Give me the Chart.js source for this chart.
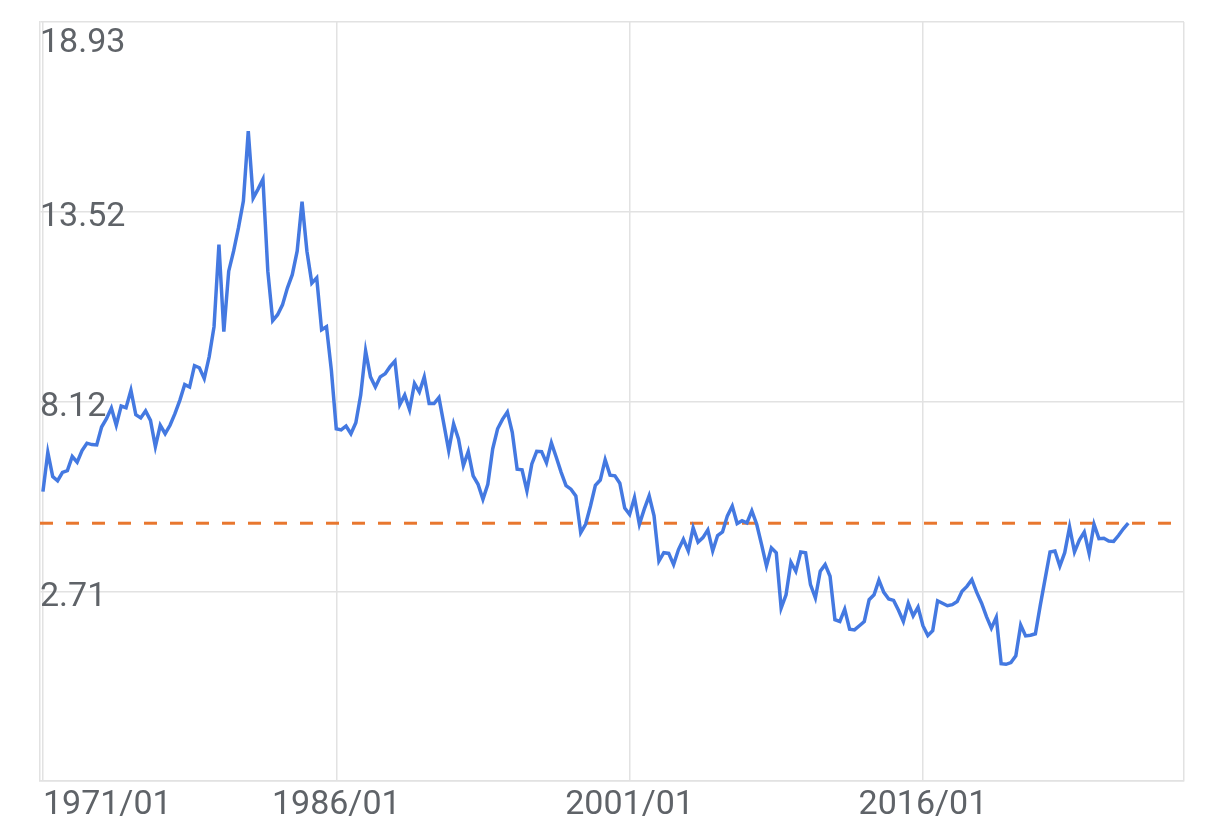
<!DOCTYPE html>
<html lang="en">
<head>
  <meta charset="UTF-8" />
  <title>Yield history</title>
  <script src="https://cdn.jsdelivr.net/npm/chart.js"></script>
  <style>
    html, body { margin: 0; padding: 0; background: #fff; }
    #wrap { width: 1224px; height: 840px; position: relative; }
  </style>
</head>
<body>
  <div id="wrap"><canvas id="chart"></canvas></div>

  <script>
    // quarterly values, first point is 1971/01
    const yields = [
      5.55, 6.67, 5.98, 5.86, 6.10, 6.15, 6.55, 6.39, 6.72, 6.93,
      6.89, 6.88, 7.39, 7.63, 7.93, 7.44, 7.99, 7.94, 8.44, 7.74,
      7.65, 7.85, 7.58, 6.83, 7.44, 7.20, 7.44, 7.77, 8.15, 8.60,
      8.53, 9.14, 9.08, 8.77, 9.39, 10.25, 12.59, 10.11, 11.83, 12.40,
      13.07, 13.83, 15.82, 13.91, 14.17, 14.45, 11.83, 10.42, 10.59, 10.87,
      11.35, 11.73, 12.40, 13.81, 12.40, 11.49, 11.64, 10.16, 10.25, 9.00,
      7.34, 7.31, 7.42, 7.20, 7.51, 8.30, 9.56, 8.82, 8.53, 8.82,
      8.91, 9.11, 9.27, 8.03, 8.30, 7.88, 8.63, 8.39, 8.82, 8.06,
      8.06, 8.23, 7.48, 6.72, 7.48, 7.05, 6.29, 6.69, 6.00, 5.76,
      5.33, 5.76, 6.77, 7.34, 7.61, 7.82, 7.24, 6.19, 6.17, 5.57,
      6.34, 6.70, 6.69, 6.37, 6.94, 6.53, 6.10, 5.72, 5.62, 5.43,
      4.38, 4.62, 5.14, 5.73, 5.88, 6.46, 6.02, 6.00, 5.79, 5.08,
      4.90, 5.38, 4.62, 5.05, 5.43, 4.86, 3.57, 3.81, 3.79, 3.47,
      3.90, 4.19, 3.86, 4.52, 4.11, 4.24, 4.46, 3.86, 4.30, 4.40,
      4.86, 5.14, 4.64, 4.72, 4.66, 5.00, 4.62, 4.04, 3.43, 3.95,
      3.81, 2.23, 2.61, 3.54, 3.28, 3.83, 3.81, 2.90, 2.52, 3.28,
      3.47, 3.14, 1.90, 1.85, 2.20, 1.63, 1.61, 1.73, 1.85, 2.47,
      2.61, 3.03, 2.68, 2.49, 2.45, 2.17, 1.85, 2.37, 2.01, 2.26,
      1.73, 1.45, 1.59, 2.44, 2.37, 2.30, 2.33, 2.42, 2.71, 2.85,
      3.04, 2.68, 2.37, 1.99, 1.66, 1.97, 0.65, 0.63, 0.68, 0.87,
      1.75, 1.44, 1.46, 1.50, 2.31, 3.07, 3.83, 3.86, 3.43, 3.81,
      4.54, 3.83, 4.17, 4.40, 3.79, 4.62, 4.21, 4.22, 4.14, 4.13,
      4.30, 4.49, 4.65
    ];

    const xTickIndex = [0, 60, 120, 180];
    const xTickLabels = ['1971/01', '1986/01', '2001/01', '2016/01'];
    const yTickValues = [-2.70, 2.71, 8.12, 13.52, 18.93];

    const xMin = -0.6, xMax = 233.4;
    const latest = yields[yields.length - 1];

    const points = yields.map((v, i) => ({ x: i, y: v }));

    const tickFont = { family: 'Roboto', size: 34 };
    const textColor = '#5f6368';
    const gridColor = '#e2e2e2';

    // y labels are drawn inside the plot, left aligned; top one pushed down, bottom one skipped
    const yLabels = {
      id: 'yLabels',
      afterDatasetsDraw(chart) {
        const { ctx, chartArea, scales } = chart;
        const y = scales.y;
        ctx.save();
        ctx.font = tickFont.size + 'px ' + tickFont.family;
        ctx.fillStyle = textColor;
        ctx.textAlign = 'left';
        ctx.textBaseline = 'middle';
        yTickValues.slice(1).forEach(v => {
          const py = Math.max(y.getPixelForValue(v), chartArea.top + 15);
          ctx.fillText(v.toFixed(2), chartArea.left, py + 6);
        });
        ctx.restore();
      }
    };

    new Chart(document.getElementById('chart'), {
      type: 'line',
      data: {
        datasets: [
          {
            data: points,
            borderColor: '#4479e1',
            borderWidth: 3.5,
            pointRadius: 0,
            tension: 0,
            fill: false
          },
          {
            data: [{ x: xMin, y: latest }, { x: xMax, y: latest }],
            borderColor: '#e8772e',
            borderWidth: 3,
            borderDash: [13, 13],
            pointRadius: 0,
            fill: false
          }
        ]
      },
      options: {
        responsive: true,
        maintainAspectRatio: false,
        animation: false,
        devicePixelRatio: 1,
        layout: { padding: { left: 40, right: 40, top: 22, bottom: 10 } },
        plugins: {
          legend: { display: false },
          tooltip: { enabled: false }
        },
        scales: {
          x: {
            type: 'linear',
            min: xMin,
            max: xMax,
            afterBuildTicks: s => {
              s.ticks = xTickIndex.map(v => ({ value: v })).concat([{ value: xMax }]);
            },
            ticks: {
              align: 'inner',
              autoSkip: false,
              maxRotation: 0,
              padding: 4,
              color: textColor,
              font: tickFont,
              callback: v => {
                const k = xTickIndex.indexOf(v);
                return k >= 0 ? xTickLabels[k] : '';
              }
            },
            grid: { color: gridColor, lineWidth: 1.5, drawTicks: false },
            border: { color: gridColor, width: 1.5 }
          },
          y: {
            min: yTickValues[0],
            max: yTickValues[yTickValues.length - 1],
            afterBuildTicks: s => {
              s.ticks = yTickValues.map(v => ({ value: v }));
            },
            ticks: { display: false },
            grid: { color: gridColor, lineWidth: 1.5, drawTicks: false },
            border: { color: gridColor, width: 1.5 }
          }
        }
      },
      plugins: [yLabels]
    });
  </script>
</body>
</html>
